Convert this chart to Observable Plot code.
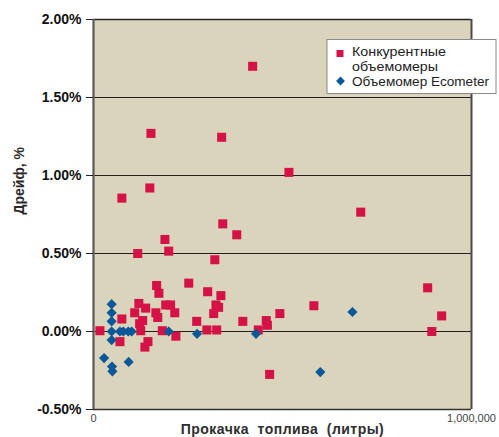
<!DOCTYPE html>
<html><head><meta charset="utf-8">
<script src="https://cdn.jsdelivr.net/npm/d3@7"></script>
<script src="https://cdn.jsdelivr.net/npm/@observablehq/plot@0.6"></script>
<style>
html,body{margin:0;padding:0;background:#fff;}
#chart svg{display:block;overflow:visible;}
</style>
</head><body><div id="chart"></div>
<script>
// Competitor flow meters: throughput (litres) and drift (%)
const competitorX = [421000,152000,339000,517000,149000,75000,707000,342000,379000,189000,199000,117000,321000,252000,167000,884000,302000,173000,337000,120000,138000,109000,191000,204000,215000,324000,331000,318000,165000,170000,130000,75000,122000,273000,395000,457000,460000,493000,583000,921000,895000,17000,70000,125000,182000,144000,136000,218000,300000,326000,436000,466000];
const competitorY = [1.70,1.27,1.245,1.02,0.92,0.855,0.765,0.69,0.62,0.59,0.515,0.50,0.46,0.31,0.295,0.28,0.255,0.245,0.23,0.18,0.15,0.12,0.17,0.17,0.12,0.17,0.155,0.115,0.12,0.09,0.07,0.08,0.05,0.065,0.065,0.07,0.04,0.115,0.165,0.10,0.00,0.005,-0.065,0.005,0.005,-0.065,-0.10,-0.03,0.01,0.01,0.01,-0.275];
// Ecometer flow meter
const ecometerX = [48000,48000,48000,48000,48000,70000,79000,92000,101000,199000,274000,430000,685000,600000,28000,49000,50000,93000];
const ecometerY = [0.175,0.12,0.065,0.0,-0.055,0.0,0.0,0.0,0.0,0.0,-0.015,-0.015,0.125,-0.26,-0.17,-0.225,-0.255,-0.195];
const yTicks = [-0.5,0,0.5,1,1.5,2];
const gridValues = [0,0.5,1,1.5];
const xTicks = [0,1000000];
const legendLabels = ["Конкурентные", "объемомеры", "Объемомер Ecometer"];
const yLabel = "Дрейф, %";
const xLabel = "Прокачка  топлива  (литры)";

const competitor = competitorX.map((x,i)=>({x, y: competitorY[i]}));
const ecometer = ecometerX.map((x,i)=>({x, y: ecometerY[i]}));

const RED = "#d51245", BLUE = "#0a5799", BG = "#dad4bd";
const FONT = "Liberation Sans, Arial, Helvetica, sans-serif";

const chart = Plot.plot({
  width: 499, height: 437,
  marginLeft: 93, marginRight: 28, marginTop: 19, marginBottom: 28,
  style: {fontFamily: FONT, background: "#fff"},
  x: {domain: [0, 1000000]},
  y: {domain: [-0.5, 2]},
  marks: [
    Plot.frame({fill: BG, stroke: null}),
    Plot.ruleY(gridValues, {stroke: "#231f20", strokeWidth: 1}),
    Plot.ruleY([2], {stroke: "#222", strokeWidth: 1.5}),
    Plot.ruleY([-0.5], {stroke: "#333", strokeWidth: 1.5}),
    Plot.ruleX([1000000], {stroke: "#4a4a4a", strokeWidth: 2}),
    Plot.ruleX([0], {stroke: "#5a5a5a", strokeWidth: 2.2}),
    Plot.axisY({ticks: yTicks, tickFormat: d => d.toFixed(2) + "%", tickSize: 7, tickPadding: 5,
      fontSize: 14, fontWeight: "bold", fill: "#111", stroke: "#222", label: null}),
    Plot.axisX({ticks: xTicks, tickFormat: d => d === 0 ? "0" : d3.format(",")(d), tickSize: 0, tickPadding: 5,
      fontSize: 11, fill: "#444", label: null}),
    Plot.text([yLabel], {frameAnchor: "left", rotate: -90, dx: -74, text: d => d,
      fontSize: 14, fontWeight: "bold", fill: "#2a2a2a"}),
    Plot.text([xLabel], {frameAnchor: "bottom", dy: 24, lineAnchor: "bottom", text: d => d,
      fontSize: 14, fontWeight: "bold", fill: "#2e2e2e"}),
    Plot.dot(competitor, {x: "x", y: "y", symbol: "square", r: 5.1, fill: RED, stroke: null}),
    Plot.dot(ecometer, {x: "x", y: "y", symbol: "diamond2", r: 4.6, fill: BLUE, stroke: null})
  ]
});
document.getElementById("chart").appendChild(chart);

// Legend box (drawn on top, overlapping the plot frame)
const svg = d3.select(chart);
svg.selectAll("text").filter(function(){ return this.textContent === xLabel; })
  .attr("letter-spacing", 0.45);
const lg = svg.append("g").attr("font-family", FONT).attr("text-anchor", "start");
lg.append("rect").attr("x", 327).attr("y", 39.5).attr("width", 169).attr("height", 54)
  .attr("fill", "#fff").attr("stroke", "#8a8a8a").attr("stroke-width", 1);
lg.append("rect").attr("x", 336.5).attr("y", 50).attr("width", 7).attr("height", 7).attr("fill", RED);
lg.append("path").attr("d", d3.symbol(d3.symbolDiamond2, 50)()).attr("transform", "translate(340.5,81)").attr("fill", BLUE);
const legendPos = [{y: 56, w: 94}, {y: 71, w: 86}, {y: 86, w: 137}];
legendLabels.forEach((t, i) => {
  lg.append("text").attr("x", 352).attr("y", legendPos[i].y).attr("font-size", 13.5).attr("fill", "#222")
    .attr("text-anchor", "start")
    .attr("textLength", legendPos[i].w).attr("lengthAdjust", "spacingAndGlyphs").text(t);
});
</script>
</body></html>
